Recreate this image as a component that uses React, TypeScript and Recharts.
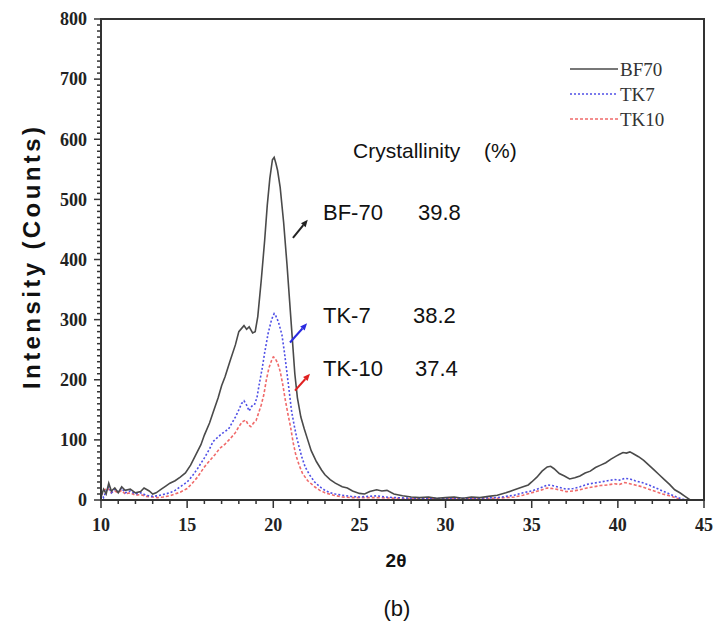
import React from 'react';
import { LineChart, Line, XAxis, YAxis, ReferenceArea, ReferenceLine } from 'recharts';

// XRD patterns: [2θ (deg), intensity (counts)]
const BF70: [number, number][] = [
  [10.0, 5], [10.15, 18], [10.3, 10], [10.45, 28], [10.6, 15], [10.8, 20], [11.0, 12], [11.2, 22], [11.4, 16],
  [11.7, 18], [12.0, 12], [12.3, 14], [12.5, 20], [12.8, 15], [13.0, 10], [13.2, 12], [13.5, 18], [13.8, 24],
  [14.0, 28], [14.3, 32], [14.6, 38], [14.9, 45], [15.2, 58], [15.5, 75], [15.8, 92], [16.0, 108], [16.3, 128],
  [16.5, 145], [16.8, 170], [17.0, 190], [17.2, 205], [17.5, 232], [17.8, 258], [18.0, 280], [18.15, 285],
  [18.3, 290], [18.45, 284], [18.6, 288], [18.8, 278], [18.95, 280], [19.1, 305], [19.3, 365], [19.5, 432],
  [19.65, 490], [19.8, 535], [19.95, 566], [20.05, 570], [20.15, 560], [20.25, 548], [20.4, 520], [20.6, 462],
  [20.8, 390], [20.95, 330], [21.1, 270], [21.25, 210], [21.4, 170], [21.6, 138], [21.8, 118], [22.0, 100],
  [22.2, 82], [22.5, 64], [22.8, 50], [23.0, 42], [23.3, 34], [23.6, 28], [24.0, 22], [24.3, 20], [24.6, 15],
  [25.0, 11], [25.3, 10], [25.6, 14], [26.0, 17], [26.3, 15], [26.6, 16], [27.0, 10], [27.5, 7], [28.0, 5],
  [28.5, 4], [29.0, 5], [29.5, 3], [30.0, 4], [30.5, 5], [31.0, 3], [31.5, 5], [32.0, 4], [32.5, 6], [33.0, 8],
  [33.5, 12], [34.0, 17], [34.5, 22], [34.8, 25], [35.0, 30], [35.3, 38], [35.6, 48], [35.9, 55], [36.1, 56],
  [36.3, 52], [36.6, 44], [36.9, 40], [37.2, 35], [37.5, 37], [37.8, 40], [38.1, 45], [38.4, 48], [38.7, 54],
  [39.0, 58], [39.3, 62], [39.6, 68], [39.9, 73], [40.1, 76], [40.3, 79], [40.5, 78], [40.7, 80], [40.9, 77],
  [41.2, 72], [41.5, 66], [41.8, 58], [42.1, 50], [42.4, 42], [42.7, 34], [43.0, 26], [43.3, 17], [43.6, 12],
  [43.9, 6], [44.2, 0],
];

const TK7: [number, number][] = [
  [10.0, 12], [10.15, 4], [10.3, 15], [10.45, 22], [10.6, 12], [10.8, 18], [11.0, 14], [11.2, 20], [11.4, 12],
  [11.7, 15], [12.0, 10], [12.3, 12], [12.6, 8], [13.0, 6], [13.3, 7], [13.6, 9], [14.0, 12], [14.3, 16],
  [14.6, 22], [15.0, 30], [15.3, 40], [15.6, 52], [16.0, 70], [16.3, 85], [16.5, 97], [16.8, 105], [17.0, 110],
  [17.2, 114], [17.4, 118], [17.6, 128], [17.8, 138], [18.0, 150], [18.15, 160], [18.3, 165], [18.45, 158],
  [18.6, 148], [18.75, 156], [18.9, 158], [19.05, 170], [19.2, 195], [19.35, 218], [19.5, 245], [19.7, 277],
  [19.9, 300], [20.05, 310], [20.15, 306], [20.3, 296], [20.5, 275], [20.65, 245], [20.8, 210], [20.95, 175],
  [21.05, 150], [21.2, 126], [21.35, 105], [21.5, 88], [21.65, 72], [21.85, 55], [22.1, 42], [22.4, 30],
  [22.7, 22], [23.0, 16], [23.3, 12], [23.6, 10], [24.0, 8], [24.5, 6], [25.0, 5], [25.5, 6], [26.0, 7],
  [26.5, 5], [27.0, 4], [28.0, 3], [29.0, 3], [30.0, 2], [31.0, 3], [32.0, 3], [33.0, 4], [33.5, 6], [34.0, 8],
  [34.5, 12], [35.0, 15], [35.5, 20], [35.9, 25], [36.2, 24], [36.6, 21], [37.0, 18], [37.4, 19], [37.8, 22],
  [38.2, 26], [38.6, 28], [39.0, 30], [39.4, 32], [39.8, 34], [40.1, 33], [40.4, 36], [40.7, 35], [41.0, 32],
  [41.4, 29], [41.8, 25], [42.2, 20], [42.6, 15], [43.0, 10], [43.4, 5], [43.8, 1], [44.0, 0],
];

const TK10: [number, number][] = [
  [10.0, 8], [10.15, 14], [10.3, 20], [10.45, 18], [10.6, 12], [10.8, 15], [11.0, 12], [11.2, 16], [11.4, 10],
  [11.7, 12], [12.0, 8], [12.3, 9], [12.6, 6], [13.0, 5], [13.3, 4], [13.6, 5], [14.0, 7], [14.3, 10],
  [14.6, 13], [15.0, 19], [15.3, 28], [15.6, 38], [16.0, 55], [16.3, 65], [16.6, 75], [16.9, 86], [17.2, 93],
  [17.5, 102], [17.8, 112], [18.0, 122], [18.2, 130], [18.4, 133], [18.55, 125], [18.7, 122], [18.85, 128],
  [19.0, 132], [19.15, 145], [19.3, 158], [19.45, 175], [19.6, 200], [19.75, 220], [19.9, 232], [20.0, 238],
  [20.1, 236], [20.25, 228], [20.4, 214], [20.55, 192], [20.7, 166], [20.85, 143], [21.0, 122], [21.15, 96],
  [21.3, 76], [21.5, 58], [21.7, 44], [22.0, 32], [22.4, 22], [22.7, 16], [23.0, 12], [23.5, 8], [24.0, 5],
  [24.5, 4], [25.0, 4], [26.0, 4], [27.0, 3], [28.0, 2], [29.0, 2], [30.0, 2], [31.0, 2], [32.0, 2], [33.0, 3],
  [33.5, 4], [34.0, 5], [34.5, 8], [35.0, 12], [35.5, 16], [35.9, 20], [36.2, 19], [36.6, 17], [37.0, 14],
  [37.4, 15], [37.8, 17], [38.2, 20], [38.6, 22], [39.0, 24], [39.4, 25], [39.8, 27], [40.1, 26], [40.4, 29],
  [40.7, 27], [41.0, 25], [41.4, 22], [41.8, 18], [42.2, 14], [42.6, 10], [43.0, 7], [43.4, 3], [43.8, 0],
];

// Axis ranges and ticks
const X_DOMAIN: [number, number] = [10, 45];
const Y_DOMAIN: [number, number] = [0, 800];
const X_TICKS = Array.from({ length: 36 }, (_, i) => 10 + i);
const Y_TICKS = Array.from({ length: 81 }, (_, i) => i * 10);
const X_MAJOR = 5;
const Y_MAJOR = 100;

// Crystallinity table
const SAMPLES = ['BF-70', 'TK-7', 'TK-10'];
const CRYSTALLINITY = ['39.8', '38.2', '37.4'];

// Legend entries
const LEGEND = [
  { name: 'BF70', color: '#4a4a4a', dash: undefined as string | undefined },
  { name: 'TK7', color: '#4f4fe6', dash: '2 2' },
  { name: 'TK10', color: '#f06a6a', dash: '3 2' },
];

// Arrow annotations in data coordinates
const ARROWS: { from: [number, number]; to: [number, number]; color: string }[] = [
  { from: [21.14, 436], to: [22.0, 466], color: '#222' },
  { from: [20.97, 262], to: [21.96, 294], color: '#2a2ae0' },
  { from: [21.26, 182], to: [22.13, 210], color: '#e02020' },
];

const toPoints = (rows: [number, number][]) => rows.map(([x, y]) => ({ x, y }));

const AXIS = '#333';
const TICK_FONT = '"Liberation Serif", "Times New Roman", serif';
const SANS = '"Liberation Sans", Arial, sans-serif';

const YTick = (props: any) => {
  const { x, y, payload } = props;
  const v = payload.value as number;
  const major = v % Y_MAJOR === 0;
  return (
    <g>
      <line x1={x} x2={x - (major ? 7 : 4)} y1={y} y2={y} stroke={AXIS} strokeWidth={1.5} />
      {major && (
        <text x={x - 14} y={y} dy="0.35em" textAnchor="end" fontFamily={TICK_FONT} fontWeight="bold" fontSize={18} fill="#222">
          {v}
        </text>
      )}
    </g>
  );
};

const XTick = (props: any) => {
  const { x, y, payload } = props;
  const v = payload.value as number;
  const major = v % X_MAJOR === 0;
  return (
    <g>
      <line x1={x} x2={x} y1={y} y2={y + (major ? 8 : 4)} stroke={AXIS} strokeWidth={1.5} />
      {major && (
        <text x={x} y={y + 31} textAnchor="middle" fontFamily={TICK_FONT} fontWeight="bold" fontSize={18} fill="#222">
          {v}
        </text>
      )}
    </g>
  );
};

const arrowShape = (color: string) => (p: any) => {
  const { x1, y1, x2, y2 } = p;
  if ([x1, y1, x2, y2].some((v) => typeof v !== 'number')) return <g />;
  const ang = Math.atan2(y2 - y1, x2 - x1);
  const L = 7;
  const W = 3;
  const bx = x2 - L * Math.cos(ang);
  const by = y2 - L * Math.sin(ang);
  const px = -Math.sin(ang) * W;
  const py = Math.cos(ang) * W;
  return (
    <g>
      <line x1={x1} y1={y1} x2={bx} y2={by} stroke={color} strokeWidth={2} />
      <polygon points={`${x2},${y2} ${bx + px},${by + py} ${bx - px},${by - py}`} fill={color} />
    </g>
  );
};

const ROW_Y = [220, 323, 376];
const VALUE_X = [418, 413, 415];

export default function App() {
  return (
    <div style={{ position: 'absolute', left: 0, top: 0, width: 713, height: 625, background: '#fff' }}>
      <LineChart width={713} height={625} margin={{ top: 19, right: 9, bottom: 95, left: 61 }}>
        <XAxis
          type="number"
          dataKey="x"
          domain={X_DOMAIN}
          ticks={X_TICKS}
          interval={0}
          allowDataOverflow
          height={30}
          tickSize={0}
          tickMargin={0}
          tickLine={false}
          axisLine={{ stroke: AXIS, strokeWidth: 2 }}
          tick={<XTick />}
        />
        <YAxis
          type="number"
          dataKey="y"
          domain={Y_DOMAIN}
          ticks={Y_TICKS}
          interval={0}
          allowDataOverflow
          width={40}
          tickSize={0}
          tickMargin={0}
          tickLine={false}
          axisLine={{ stroke: AXIS, strokeWidth: 2 }}
          tick={<YTick />}
        />
        <ReferenceArea x1={X_DOMAIN[0]} x2={X_DOMAIN[1]} y1={Y_DOMAIN[0]} y2={Y_DOMAIN[1]} fill="none" fillOpacity={0} stroke={AXIS} strokeWidth={2} />
        <Line data={toPoints(TK10)} dataKey="y" name="TK10" type="linear" stroke="#f06a6a" strokeWidth={1.6} strokeDasharray="3 2" dot={false} isAnimationActive={false} />
        <Line data={toPoints(TK7)} dataKey="y" name="TK7" type="linear" stroke="#4f4fe6" strokeWidth={1.6} strokeDasharray="2 2" dot={false} isAnimationActive={false} />
        <Line data={toPoints(BF70)} dataKey="y" name="BF70" type="linear" stroke="#4a4a4a" strokeWidth={1.6} dot={false} isAnimationActive={false} />
        {ARROWS.map((a, i) => (
          <ReferenceLine
            key={i}
            segment={[{ x: a.from[0], y: a.from[1] }, { x: a.to[0], y: a.to[1] }]}
            stroke={a.color}
            shape={arrowShape(a.color)}
          />
        ))}
      </LineChart>
      <svg width={713} height={625} style={{ position: 'absolute', left: 0, top: 0, pointerEvents: 'none' }}>
        {LEGEND.map((e, i) => (
          <g key={e.name}>
            <line x1={570} x2={618} y1={69 + i * 25} y2={69 + i * 25} stroke={e.color} strokeWidth={1.6} strokeDasharray={e.dash} />
            <text x={620} y={69 + i * 25} dy="0.35em" fontFamily={TICK_FONT} fontSize={19} fill="#333">
              {e.name}
            </text>
          </g>
        ))}
        <text
          transform="translate(40,258) rotate(-90)"
          textAnchor="middle"
          fontFamily={SANS}
          fontWeight="bold"
          fontSize={24}
          textLength={262}
          lengthAdjust="spacing"
          fill="#111"
        >
          Intensity (Counts)
        </text>
        <text x={396} y={567} textAnchor="middle" fontFamily={SANS} fontWeight="bold" fontSize={19} fill="#111">
          2θ
        </text>
        <text x={397} y={616} textAnchor="middle" fontFamily={SANS} fontSize={22} fill="#111">
          (b)
        </text>
        <text x={353} y={158} fontFamily={SANS} fontSize={21} fill="#111">
          Crystallinity
        </text>
        <text x={484} y={158} fontFamily={SANS} fontSize={21} fill="#111">
          (%)
        </text>
        {SAMPLES.map((s, i) => (
          <g key={s}>
            <text x={323} y={ROW_Y[i]} fontFamily={SANS} fontSize={22} fill="#111">
              {s}
            </text>
            <text x={VALUE_X[i]} y={ROW_Y[i]} fontFamily={SANS} fontSize={22} fill="#111">
              {CRYSTALLINITY[i]}
            </text>
          </g>
        ))}
      </svg>
    </div>
  );
}
